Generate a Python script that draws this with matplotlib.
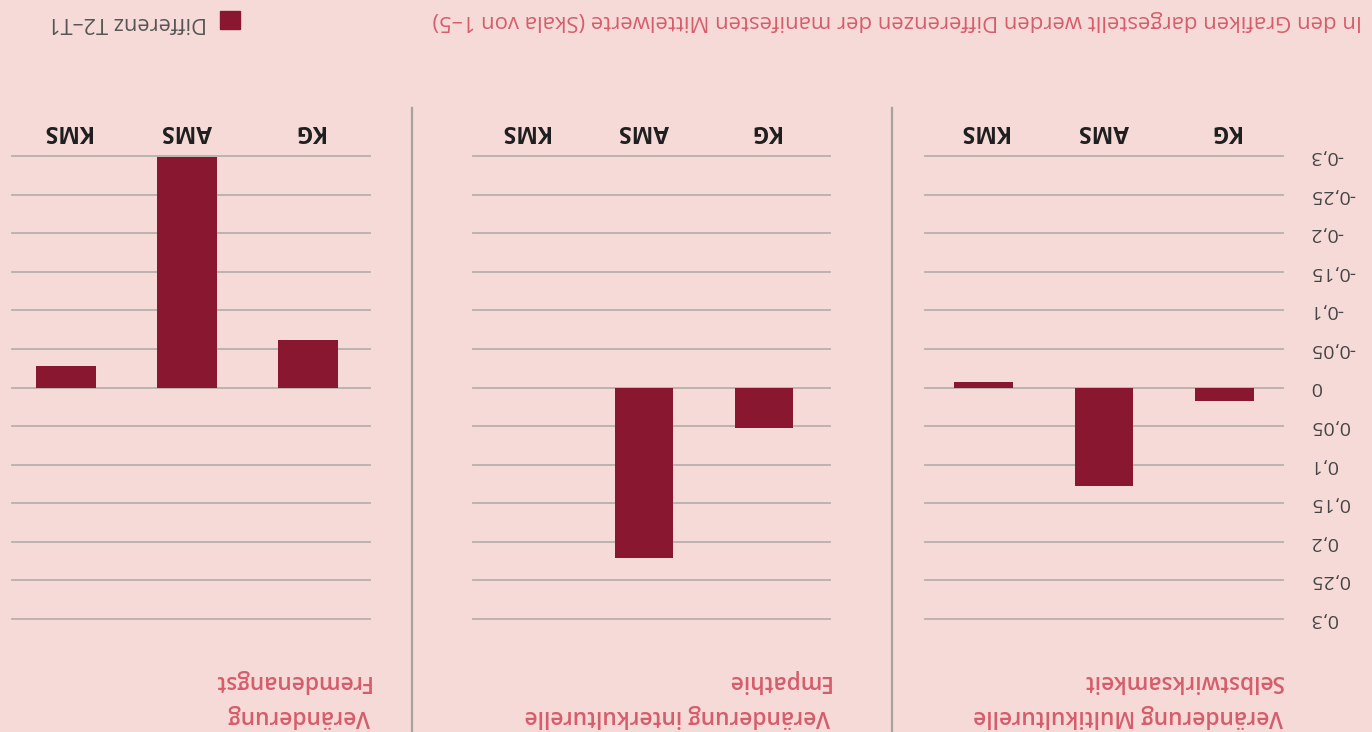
import matplotlib.pyplot as plt
from matplotlib.lines import Line2D
from matplotlib.patches import Patch

plt.rcParams['font.family'] = ['Open Sans', 'DejaVu Sans']

# data (chart is shown rotated by 180 degrees)
categories = ['KG', 'AMS', 'KMS']
selbstwirksamkeit = [0.018, 0.127, -0.007]
empathie = [0.052, 0.221, 0.0]
fremdenangst = [-0.062, -0.299, -0.028]
yticks = [-0.3, -0.25, -0.2, -0.15, -0.1, -0.05, 0, 0.05, 0.1, 0.15, 0.2, 0.25, 0.3]
ytick_labels = ['-0,3', '-0,25', '-0,2', '-0,15', '-0,1', '-0,05', '0',
                '0,05', '0,1', '0,15', '0,2', '0,25', '0,3']
titles = [('Veränderung Multikulturelle', 'Selbstwirksamkeit'),
          ('Veränderung interkulturelle', 'Empathie'),
          ('Veränderung', 'Fremdenangst')]
note = 'In den Grafiken dargestellt werden Differenzen der manifesten Mittelwerte (Skala von 1–5)'
legend_label = 'Differenz T2–T1'

bg = '#f5dad7'
bar_color = '#8a1730'
grid_color = '#b8afae'
red_text = '#d65d6b'

W, H = 1372, 732
fig = plt.figure(figsize=(W / 100, H / 100), dpi=100, facecolor=bg)

# left px, right px, xlim, values
panels = [(925, 1283, (2.49, -0.49), selbstwirksamkeit),
          (473, 830, (2.425, -0.55), empathie),
          (12, 370, (2.446, -0.512), fremdenangst)]
y_top, y_bot = 156, 619

for k, (l, r, xlim, vals) in enumerate(panels):
    ax = fig.add_axes([l / W, 1 - y_bot / H, (r - l) / W, (y_bot - y_top) / H])
    ax.set_facecolor('none')
    ax.set_xlim(*xlim)
    ax.set_ylim(0.3, -0.3)
    for t in yticks:
        ax.axhline(t, color=grid_color, lw=1.3, zorder=1, clip_on=False)
    ax.bar(range(len(categories)), vals, width=0.49, color=bar_color, zorder=2)
    for s in ax.spines.values():
        s.set_visible(False)
    ax.set_xticks([])
    ax.set_yticks([])
    for i, c in enumerate(categories):
        ax.text(i, -0.333, c, rotation=180, ha='center', va='center',
                fontsize=16.5, fontweight='bold', color='#1e1e1e', clip_on=False)
    if k == 0:
        # y labels sit to the right of the (rotated) axis
        lab_x = (1310 - l) / (r - l)
        for t, lab in zip(yticks, ytick_labels):
            ax.text(lab_x, t, lab, transform=ax.get_yaxis_transform(), rotation=180,
                    ha='left', va='center', fontsize=14, color='#444444', clip_on=False)
    fig.text(r / W, 1 - 716 / H, titles[k][0], rotation=180, ha='right', va='center',
             fontsize=16.3, fontweight='semibold', color=red_text)
    fig.text(r / W, 1 - 681 / H, titles[k][1], rotation=180, ha='right', va='center',
             fontsize=16.3, fontweight='semibold', color=red_text)

# separators
for x in [892, 412]:
    fig.add_artist(Line2D([x / W, x / W], [0, 1 - 108 / H], transform=fig.transFigure,
                          color='#a9a1a1', lw=1.6))

fig.text(1362 / W, 1 - 21 / H, note, rotation=180, ha='right', va='center',
         fontsize=15.9, color=red_text)

leg = fig.legend(handles=[Patch(color=bar_color)], labels=[legend_label],
                 loc='center', bbox_to_anchor=(144 / W, 1 - 22 / H), frameon=False,
                 markerfirst=False, handlelength=0.9, handleheight=0.9,
                 handletextpad=0.6, fontsize=15.7, labelcolor='#555555')
for t in leg.get_texts():
    t.set_rotation(180)

fig.savefig('out.png', dpi=100, facecolor=bg)
